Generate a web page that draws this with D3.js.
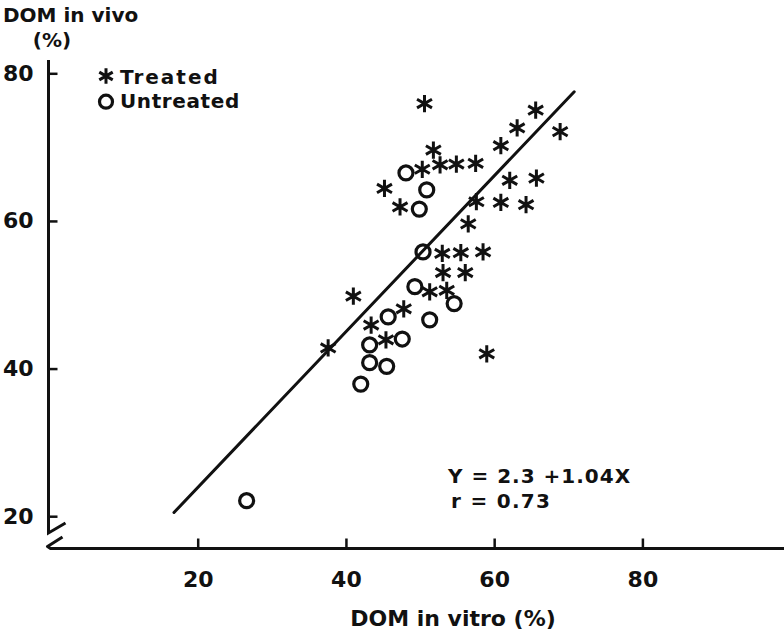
<!DOCTYPE html>
<html>
<head>
<meta charset="utf-8">
<script src="https://cdn.jsdelivr.net/npm/d3@7"></script>
<style>
  html, body { margin: 0; padding: 0; background: #fff; }
  svg { display: block; font-family: "DejaVu Sans", sans-serif; font-weight: bold; }
</style>
</head>
<body>
<svg id="chart" width="784" height="633"></svg>
<script>
// Treated samples: DOM in vitro (%) vs DOM in vivo (%)
const treatedX = [50.6, 65.6, 63.1, 68.9, 51.8, 60.9, 50.3, 52.7, 54.9, 57.5,
  45.2, 62.1, 65.7, 47.3, 57.6, 60.9, 64.3, 56.5, 53.0, 55.5,
  58.5, 53.1, 56.1, 51.3, 53.6, 41.0, 47.8, 43.4, 45.4, 37.6, 59.0];
const treatedY = [75.9, 75.0, 72.6, 72.1, 69.6, 70.2, 67.0, 67.6, 67.7, 67.8,
  64.4, 65.5, 65.8, 61.9, 62.6, 62.5, 62.2, 59.6, 55.6, 55.7,
  55.8, 53.0, 53.0, 50.4, 50.6, 49.8, 48.1, 45.9, 43.9, 42.8, 42.0];

// Untreated samples
const untreatedX = [48.1, 50.9, 49.9, 50.4, 49.3, 54.6, 45.7, 51.3, 47.6, 43.2, 43.2, 45.5, 42.0, 26.6];
const untreatedY = [66.5, 64.2, 61.6, 55.8, 51.1, 48.8, 47.0, 46.6, 44.0, 43.2, 40.8, 40.3, 37.9, 22.1];

// Fitted regression line end points
const lineX = [16.8, 70.8];
const lineY = [20.5, 77.5];

const xTicks = [20, 40, 60, 80];
const yTicks = [20, 40, 60, 80];

const svg = d3.select('#chart');

// Layout
const axisX = 48.5;     // y axis position
const axisY = 548.5;    // x axis position
const axisTop = 60;
const breakY = 533;

const x = d3.scaleLinear().domain([20, 80]).range([197.7, 642.4]);
const y = d3.scaleLinear().domain([20, 80]).range([516.2, 73.3]);

const ink = '#111';

// Axes (ticks point inward, domain lines drawn by hand for the break)
const xAxis = svg.append('g')
  .attr('transform', `translate(0,${axisY})`)
  .call(d3.axisBottom(x).tickValues(xTicks).tickSize(-10).tickPadding(22.6));
const yAxis = svg.append('g')
  .attr('transform', `translate(${axisX},0)`)
  .call(d3.axisLeft(y).tickValues(yTicks).tickSize(-9).tickPadding(15));

[xAxis, yAxis].forEach(g => {
  g.select('.domain').remove();
  g.selectAll('.tick line').attr('stroke', ink).attr('stroke-width', 2.5);
  g.selectAll('.tick text')
    .attr('fill', ink)
    .attr('font-size', 22)
    .attr('font-family', '"DejaVu Sans", sans-serif')
    .attr('font-weight', 'bold');
});

// Axis lines with the broken corner
const lineGen = d3.line();
svg.append('path')
  .attr('d', lineGen([[axisX, axisTop], [axisX, breakY], [axisX + 17, breakY - 10]]))
  .attr('fill', 'none').attr('stroke', ink).attr('stroke-width', 3)
  .attr('stroke-linejoin', 'miter');
svg.append('path')
  .attr('d', lineGen([[axisX + 14, breakY + 4], [axisX - 1, axisY - 2], [axisX + 2, axisY], [784, axisY]]))
  .attr('fill', 'none').attr('stroke', ink).attr('stroke-width', 3)
  .attr('stroke-linejoin', 'round');

// Regression line
svg.append('path')
  .attr('d', lineGen(lineX.map((d, i) => [x(d), y(lineY[i])])))
  .attr('fill', 'none').attr('stroke', ink).attr('stroke-width', 3)
  .attr('stroke-linecap', 'round');

// Points
const asterisk = d3.symbol().type(d3.symbolAsterisk).size(210);

svg.append('g').selectAll('path')
  .data(treatedX.map((d, i) => [d, treatedY[i]]))
  .join('path')
  .attr('transform', d => `translate(${x(d[0])},${y(d[1])})`)
  .attr('d', asterisk)
  .attr('fill', 'none')
  .attr('stroke', ink)
  .attr('stroke-width', 3);

svg.append('g').selectAll('circle')
  .data(untreatedX.map((d, i) => [d, untreatedY[i]]))
  .join('circle')
  .attr('cx', d => x(d[0]))
  .attr('cy', d => y(d[1]))
  .attr('r', 7)
  .attr('fill', 'none')
  .attr('stroke', ink)
  .attr('stroke-width', 3.2);

// Legend
const legend = svg.append('g').attr('transform', 'translate(106,76)');
legend.append('path')
  .attr('d', d3.symbol().type(d3.symbolAsterisk).size(170))
  .attr('fill', 'none').attr('stroke', ink).attr('stroke-width', 3);
legend.append('circle')
  .attr('cy', 25.7).attr('r', 6.5)
  .attr('fill', 'none').attr('stroke', ink).attr('stroke-width', 3.2);
legend.append('text')
  .attr('x', 14).attr('y', 7.5)
  .attr('font-size', 20).attr('fill', ink)
  .attr('letter-spacing', 2)
  .text('Treated');
legend.append('text')
  .attr('x', 14).attr('y', 32.3)
  .attr('font-size', 20).attr('fill', ink)
  .attr('letter-spacing', 0.6)
  .text('Untreated');

// Axis titles
svg.append('text')
  .attr('x', 3).attr('y', 21.7)
  .attr('font-size', 20).attr('fill', ink)
  .text('DOM in vivo');
svg.append('text')
  .attr('x', 52).attr('y', 47)
  .attr('text-anchor', 'middle')
  .attr('font-size', 20).attr('fill', ink)
  .text('(%)');
svg.append('text')
  .attr('x', 453).attr('y', 625.7)
  .attr('text-anchor', 'middle')
  .attr('font-size', 22).attr('fill', ink)
  .text('DOM in vitro (%)');

// Regression equation
svg.append('text')
  .attr('x', 448).attr('y', 483.3)
  .attr('font-size', 20).attr('fill', ink)
  .attr('letter-spacing', 1)
  .text('Y = 2.3 +1.04X');
svg.append('text')
  .attr('x', 451).attr('y', 508.3)
  .attr('font-size', 20).attr('fill', ink)
  .attr('letter-spacing', 1.3)
  .text('r = 0.73');
</script>
</body>
</html>
